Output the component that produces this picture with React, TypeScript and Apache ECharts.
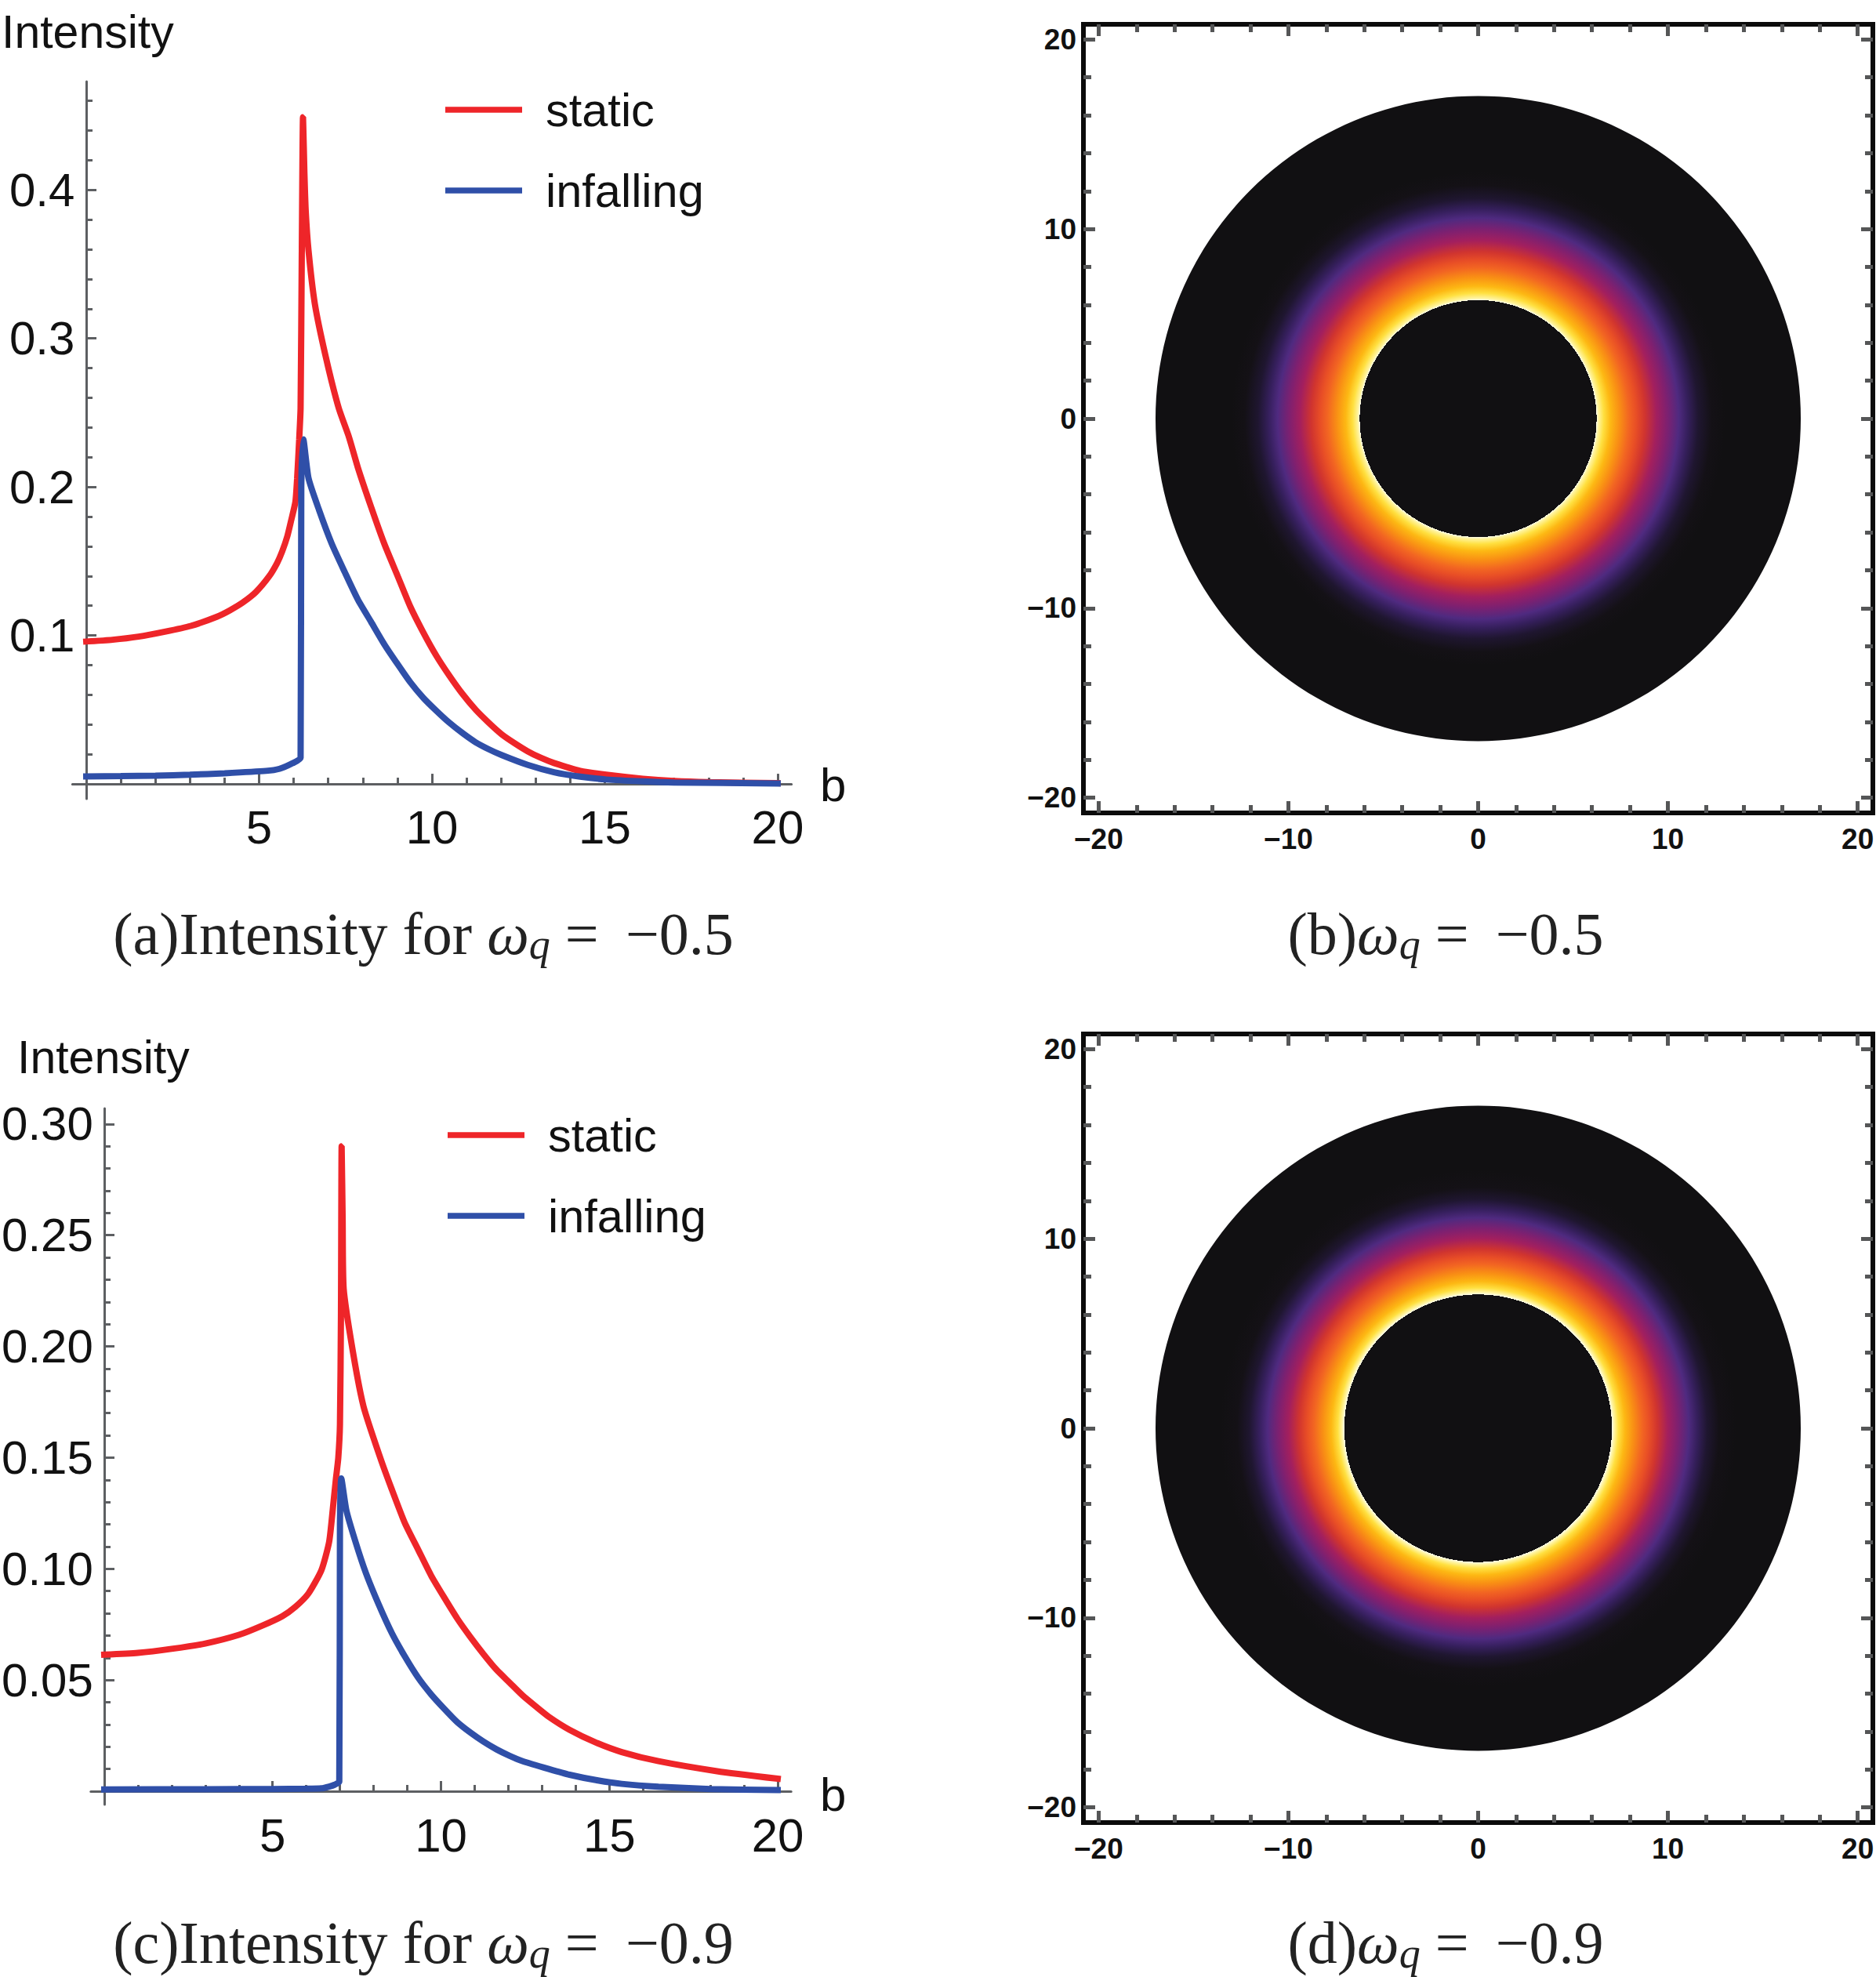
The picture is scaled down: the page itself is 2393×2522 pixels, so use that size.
import { useEffect, useRef } from "react";
import * as echarts from "echarts";

const STATIC_A = [
  [0, 0.0959], [0.76, 0.0971], [1.51, 0.0992], [2.27, 0.1025], [3.02, 0.1064], [3.78, 0.1126], [4.16, 0.117],
  [4.53, 0.1222], [4.91, 0.1293], [5.29, 0.1398], [5.52, 0.1487], [5.67, 0.1567], [5.82, 0.1671], [5.93, 0.1777],
  [6.05, 0.19], [6.1, 0.2058], [6.16, 0.2322], [6.2, 0.2533], [6.235, 0.359], [6.27, 0.449], [6.31, 0.4116],
  [6.35, 0.385], [6.43, 0.359], [6.61, 0.3236], [6.92, 0.2885], [7.3, 0.2533], [7.6, 0.2335], [7.86, 0.2128],
  [8.24, 0.1865], [8.62, 0.1618], [8.995, 0.1407], [9.37, 0.1196], [9.75, 0.102], [10.13, 0.0862], [10.5, 0.073],
  [10.88, 0.0607], [11.26, 0.0501], [11.64, 0.0413], [12.02, 0.0334], [12.4, 0.0273], [12.77, 0.022], [13.15, 0.0176],
  [13.53, 0.0141], [14.29, 0.0088], [15.04, 0.0062], [16.1, 0.0035], [17, 0.002], [18, 0.0012], [20, 0.0005],
];
const INFALLING_A = [
  [0, 0.0051], [1, 0.0053], [2, 0.0056], [3, 0.0062], [4, 0.0072], [5.2, 0.0088], [5.59, 0.0102], [5.97, 0.014],
  [6.2, 0.0176], [6.22, 0.2], [6.28, 0.232], [6.43, 0.2058], [6.73, 0.1847], [7.1, 0.1618], [7.48, 0.1425],
  [7.86, 0.124], [8.24, 0.1091], [8.62, 0.0941], [9, 0.0809], [9.37, 0.0686], [9.75, 0.058], [10.13, 0.0492],
  [10.5, 0.0413], [10.88, 0.0343], [11.26, 0.0281], [11.64, 0.0234], [12.02, 0.0194], [12.77, 0.0128], [13.53, 0.0079],
  [14.29, 0.0049], [15.04, 0.003], [16.1, 0.0017], [17, 0.001], [20, 0.0003],
];
const STATIC_C = [
  [0, 0.0614], [1, 0.0622], [2, 0.064], [3, 0.0664], [4, 0.0703], [4.7, 0.0745], [5.29, 0.0787], [5.67, 0.0828],
  [6.06, 0.0888], [6.45, 0.0994], [6.68, 0.1122], [6.8, 0.1287], [6.88, 0.1404], [6.95, 0.1498], [7, 0.165],
  [7.03, 0.215], [7.05, 0.29], [7.08, 0.257], [7.11, 0.226], [7.38, 0.198], [7.7, 0.173], [8.2, 0.1498],
  [8.54, 0.1357], [8.93, 0.1205], [9.32, 0.1087], [9.71, 0.0969], [10.1, 0.087], [10.49, 0.0775], [10.87, 0.0694],
  [11.26, 0.0617], [11.65, 0.0546], [12.04, 0.0488], [12.43, 0.043], [12.81, 0.0382], [13.2, 0.0335], [13.82, 0.0276],
  [14.6, 0.0219], [15.37, 0.0176], [16.46, 0.0135], [18.2, 0.009], [20, 0.0056],
];
const INFALLING_C = [
  [0, 0.0008], [3, 0.0009], [5, 0.001], [6, 0.0011], [6.45, 0.0013], [6.68, 0.0021], [6.84, 0.0029], [6.98, 0.0042],
  [7, 0.12], [7.04, 0.1406], [7.19, 0.1263], [7.46, 0.1122], [7.77, 0.0981], [8.15, 0.084], [8.54, 0.0711],
  [8.93, 0.0605], [9.32, 0.0511], [9.71, 0.0435], [10.1, 0.037], [10.48, 0.0311], [10.87, 0.0264], [11.26, 0.0223],
  [11.65, 0.0188], [12.04, 0.0159], [12.43, 0.0135], [13.2, 0.01], [13.82, 0.0074], [14.6, 0.005], [15.37, 0.0033],
  [16.46, 0.002], [18, 0.001], [20, 0.0005],
];

const B_MAJOR = [5, 10, 15, 20];
const B_MINOR = [1, 2, 3, 4, 6, 7, 8, 9, 11, 12, 13, 14, 16, 17, 18, 19];
const Y_MAJOR_A = [0.1, 0.2, 0.3, 0.4];
const Y_MINOR_A = [0.02, 0.04, 0.06, 0.08, 0.12, 0.14, 0.16, 0.18, 0.22, 0.24, 0.26, 0.28, 0.32, 0.34, 0.36, 0.38, 0.42, 0.44, 0.46];
const Y_MAJOR_C = [0.05, 0.1, 0.15, 0.2, 0.25, 0.3];
const Y_MINOR_C = [0.01, 0.02, 0.03, 0.04, 0.06, 0.07, 0.08, 0.09, 0.11, 0.12, 0.13, 0.14, 0.16, 0.17, 0.18, 0.19, 0.21, 0.22, 0.23, 0.24, 0.26, 0.27, 0.28, 0.29];

const DISC_MAJOR = [-20, -10, 0, 10, 20];
const DISC_MINOR = [-18, -16, -14, -12, -8, -6, -4, -2, 2, 4, 6, 8, 12, 14, 16, 18];

// colour ramp of the shadow images, with the radius where each colour sits
const DISC_COLORS = ["#fffdea", "#fff4a0", "#ffe040", "#fdb813", "#f99014", "#f26522", "#e84e26", "#d0342f", "#a31f5e", "#7e2070", "#4f2a80", "#351f5c", "#1f1630", "#141116", "#111012"];
const RADII_B = [6.24, 6.34, 6.62, 6.98, 7.45, 7.95, 8.33, 8.8, 9.4, 9.96, 10.57, 11.05, 11.6, 12.3, 13];
const RADII_D = [7.05, 7.18, 7.4, 7.74, 8.18, 8.66, 9.02, 9.45, 10, 10.52, 11.1, 11.55, 12.06, 12.7, 13.6];
const DISC_EDGE = 17;
const DISC_DARK = "#111012";

const RED = "#ee2529";
const BLUE = "#2f4fa8";
const AXIS_GREY = "#5d5f62";
const TEXT = "#111111";
const SANS = "Liberation Sans";
const SERIF = "Liberation Serif";

function lineAxes(gridIndex: number, xRange: number[], yRange: number[], yMajor: number[], yMinor: number[], digits: number, xMargin: number) {
  const line = { color: AXIS_GREY, width: 3 };
  const xBase = { type: "value", gridIndex, position: "bottom", min: xRange[0], max: xRange[1], splitLine: { show: false } };
  const yBase = { type: "value", gridIndex, position: "left", min: yRange[0], max: yRange[1], splitLine: { show: false } };
  const xAxes = [
    {
      ...xBase,
      axisLine: { show: true, onZero: true, lineStyle: line },
      axisTick: { show: true, inside: true, length: 13, customValues: B_MAJOR, lineStyle: line },
      axisLabel: { show: true, customValues: B_MAJOR, margin: xMargin, fontSize: 60, fontFamily: SANS, color: TEXT },
    },
    {
      ...xBase,
      axisLine: { show: false, onZero: true },
      axisTick: { show: true, inside: true, length: 8, customValues: B_MINOR, lineStyle: line },
      axisLabel: { show: false },
    },
  ];
  const yAxes = [
    {
      ...yBase,
      axisLine: { show: true, onZero: true, lineStyle: line },
      axisTick: { show: true, inside: true, length: 13, customValues: yMajor, lineStyle: line },
      axisLabel: {
        show: true,
        customValues: yMajor,
        margin: -3,
        fontSize: 60,
        fontFamily: SANS,
        color: TEXT,
        formatter: (v: number) => v.toFixed(digits),
      },
    },
    {
      ...yBase,
      axisLine: { show: false, onZero: true },
      axisTick: { show: true, inside: true, length: 8, customValues: yMinor, lineStyle: line },
      axisLabel: { show: false },
    },
  ];
  return { xAxes, yAxes };
}

function discAxes(gridIndex: number) {
  const frame = { color: "#0b0b0b", width: 6, cap: "square" };
  const tick = { color: "#555657", width: 5 };
  const range = { type: "value", gridIndex, min: -20.8, max: 20.8, splitLine: { show: false } };
  const label = {
    show: true,
    customValues: DISC_MAJOR,
    fontSize: 37,
    fontWeight: "bold",
    fontFamily: SANS,
    color: TEXT,
    formatter: (v: number) => String(v).replace("-", "\u2212"),
  };
  const sides = (first: string, second: string, margin: number) => [
    {
      ...range,
      position: first,
      axisLine: { show: true, onZero: false, lineStyle: frame },
      axisTick: { show: true, inside: true, length: 15, customValues: DISC_MAJOR, lineStyle: tick },
      axisLabel: { ...label, margin },
    },
    {
      ...range,
      position: first,
      axisLine: { show: false, onZero: false },
      axisTick: { show: true, inside: true, length: 10, customValues: DISC_MINOR, lineStyle: tick },
      axisLabel: { show: false },
    },
    {
      ...range,
      position: second,
      axisLine: { show: true, onZero: false, lineStyle: frame },
      axisTick: { show: true, inside: true, length: 15, customValues: DISC_MAJOR, lineStyle: tick },
      axisLabel: { show: false },
    },
    {
      ...range,
      position: second,
      axisLine: { show: false, onZero: false },
      axisTick: { show: true, inside: true, length: 10, customValues: DISC_MINOR, lineStyle: tick },
      axisLabel: { show: false },
    },
  ];
  return { xAxes: sides("bottom", "top", 15), yAxes: sides("left", "right", 9) };
}

function discStops(radii: number[]) {
  const stops = [
    { offset: 0, color: DISC_DARK },
    { offset: radii[0] / DISC_EDGE, color: DISC_DARK },
  ];
  radii.forEach((r, i) => stops.push({ offset: r / DISC_EDGE, color: DISC_COLORS[i] }));
  stops.push({ offset: 1, color: DISC_DARK });
  return stops;
}

function discSeries(xAxisIndex: number, yAxisIndex: number, radii: number[]) {
  return {
    type: "custom",
    xAxisIndex,
    yAxisIndex,
    clip: false,
    silent: true,
    data: [[0, 0, DISC_EDGE]],
    encode: { x: 0, y: 1 },
    renderItem: (_params: unknown, api: any) => {
      const [cx, cy] = api.coord([api.value(0), api.value(1)]);
      const r = api.size([api.value(2), 0])[0];
      return {
        type: "circle",
        shape: { cx, cy, r },
        style: {
          fill: { type: "radial", x: 0.5, y: 0.5, r: 0.5, colorStops: discStops(radii), global: false },
        },
      };
    },
  };
}

function curve(name: string, color: string, data: number[][], xAxisIndex: number, yAxisIndex: number) {
  return {
    type: "line",
    name,
    data,
    xAxisIndex,
    yAxisIndex,
    clip: false,
    symbol: "none",
    smooth: 0.2,
    color,
    itemStyle: { color },
    lineStyle: { color, width: 8, cap: "square", join: "bevel" },
  };
}

function labelText(text: string, x: number, y: number, fontSize: number) {
  return {
    type: "text",
    x,
    y,
    style: { text, fontFamily: SANS, fontSize, fill: TEXT, align: "left", verticalAlign: "middle" },
  };
}

function caption(head: string, tail: string, x: number, y: number) {
  const size = 76;
  return {
    type: "text",
    x,
    y,
    style: {
      text: `{r|${head}}{w|\u03c9}{q|q}{r| = \u2009\u2212${tail}}`,
      align: "center",
      verticalAlign: "middle",
      rich: {
        r: { fontFamily: SERIF, fontSize: size, lineHeight: 82, fill: "#222222" },
        w: { fontFamily: SERIF, fontSize: size, lineHeight: 82, fontStyle: "italic", fill: "#222222" },
        q: { fontFamily: SERIF, fontSize: 54, lineHeight: 54, fontStyle: "italic", fill: "#222222", verticalAlign: "bottom" },
      },
    },
  };
}

function legendAt(left: number, top: number) {
  return {
    left,
    top,
    orient: "vertical",
    icon: "rect",
    selectedMode: false,
    itemWidth: 98,
    itemHeight: 7.5,
    itemGap: 43,
    data: ["static", "infalling"],
    textStyle: { fontFamily: SANS, fontSize: 59.5, color: TEXT, padding: [0, 0, 0, 25] },
  };
}

export default function App() {
  const ref = useRef<HTMLDivElement | null>(null);

  useEffect(() => {
    const chart = echarts.init(ref.current!, null, { renderer: "svg" });

    const panelA = lineAxes(0, [-0.4, 20.4], [-0.01, 0.473], Y_MAJOR_A, Y_MINOR_A, 1, 6);
    const panelB = discAxes(1);
    const panelC = lineAxes(2, [-0.4, 20.4], [-0.006, 0.307], Y_MAJOR_C, Y_MINOR_C, 2, 9);
    const panelD = discAxes(3);

    const xAxis = [...panelA.xAxes, ...panelB.xAxes, ...panelC.xAxes, ...panelD.xAxes];
    const yAxis = [...panelA.yAxes, ...panelB.yAxes, ...panelC.yAxes, ...panelD.yAxes];

    chart.setOption({
      animation: false,
      backgroundColor: "#ffffff",
      grid: [
        { left: 92.4, top: 104, width: 917.2, height: 915, outerBoundsMode: "none" },
        { left: 1382, top: 31, width: 1007, height: 1006, outerBoundsMode: "none" },
        { left: 115.8, top: 1414, width: 893.4, height: 888, outerBoundsMode: "none" },
        { left: 1382, top: 1319, width: 1007, height: 1006, outerBoundsMode: "none" },
      ],
      xAxis,
      yAxis,
      legend: [legendAt(563, 105), legendAt(566, 1413)],
      series: [
        curve("static", RED, STATIC_A, 0, 0),
        curve("infalling", BLUE, INFALLING_A, 0, 0),
        discSeries(2, 2, RADII_B),
        curve("static", RED, STATIC_C, 6, 6),
        curve("infalling", BLUE, INFALLING_C, 6, 6),
        discSeries(8, 8, RADII_D),
      ],
      graphic: [
        labelText("Intensity", 2, 41, 59),
        labelText("b", 1046, 1001, 60),
        labelText("Intensity", 22, 1349, 59),
        labelText("b", 1046, 2289, 60),
        caption("(a)Intensity for ", "0.5", 540, 1191),
        caption("(b)", "0.5", 1844, 1191),
        caption("(c)Intensity for ", "0.9", 540, 2478),
        caption("(d)", "0.9", 1844, 2478),
      ],
    });

    return () => chart.dispose();
  }, []);

  return <div ref={ref} style={{ position: "fixed", left: 0, top: 0, width: 2393, height: 2522 }} />;
}
